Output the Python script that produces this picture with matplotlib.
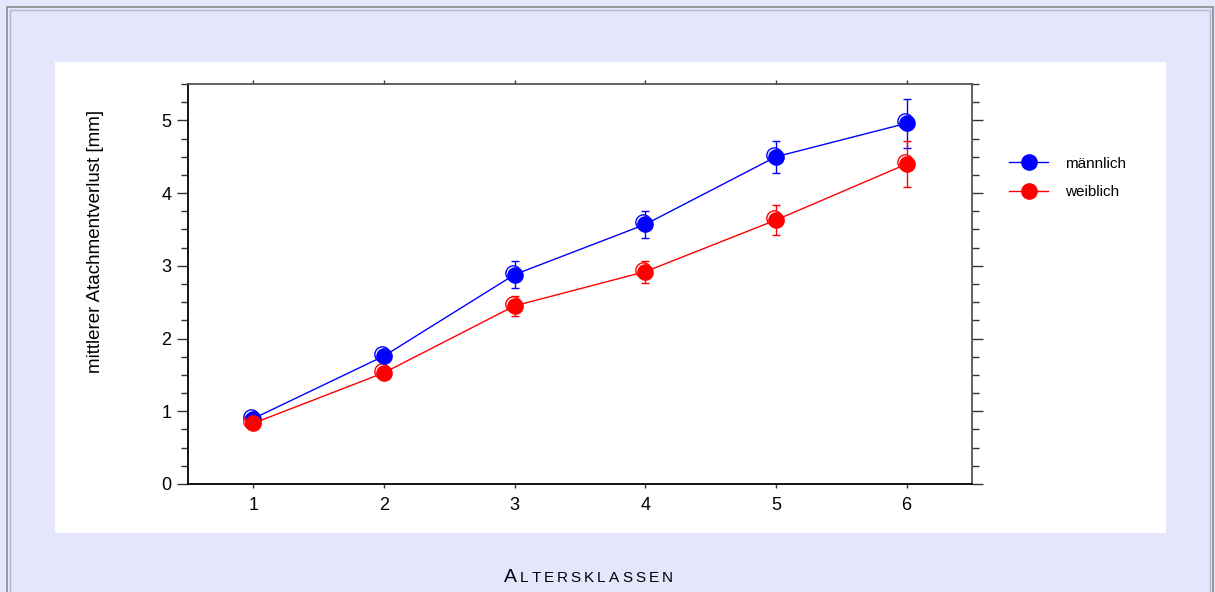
import matplotlib
matplotlib.use("Agg")
import matplotlib.pyplot as plt
import matplotlib.transforms as mtransforms
from matplotlib.patches import Rectangle
from matplotlib.lines import Line2D
from matplotlib.offsetbox import TextArea, HPacker, AnnotationBbox
from matplotlib.ticker import MultipleLocator

plt.rcParams["font.family"] = ["Liberation Sans", "DejaVu Sans"]

klassen = [1, 2, 3, 4, 5, 6]
maennlich = [0.90, 1.76, 2.88, 3.57, 4.50, 4.96]
maennlich_err = [0.05, 0.07, 0.18, 0.19, 0.22, 0.34]
weiblich = [0.835, 1.53, 2.45, 2.92, 3.63, 4.40]
weiblich_err = [0.04, 0.06, 0.14, 0.15, 0.20, 0.31]
serien = [("männlich", maennlich, maennlich_err, "#0000ff"),
          ("weiblich", weiblich, weiblich_err, "#ff0000")]

W, H = 1215, 592
fig = plt.figure(figsize=(W / 100, H / 100), dpi=100)
fig.patch.set_facecolor("#e5e5fc")

# frame lines round the page, white panel behind the plot
def px_rect(x0, y0, x1, y1, **kw):
    fig.add_artist(Rectangle((x0 / W, 1 - y1 / H), (x1 - x0) / W, (y1 - y0) / H,
                             transform=fig.transFigure, zorder=-5, **kw))

px_rect(7, 7, 1213, 620, fill=False, edgecolor="#8a8a8a", linewidth=1.2)
px_rect(10, 10, 1210, 620, fill=False, edgecolor="#b8b8c8", linewidth=1.0)
px_rect(55, 62, 1166, 533, facecolor="white", edgecolor="none")

ax = fig.add_axes([188 / W, 1 - 484 / H, (972 - 188) / W, (484 - 84) / H])
ax.set_facecolor("white")

ring_tr = mtransforms.offset_copy(ax.transData, fig=fig, x=-2, y=2, units="dots")
handles = []
for name, werte, err, farbe in serien:
    ax.errorbar(klassen, werte, yerr=err, fmt="none", ecolor=farbe,
                elinewidth=1.0, capsize=3, capthick=1.0, zorder=2)
    ax.plot(klassen, werte, color=farbe, linewidth=1.0, zorder=3)
    ax.plot(klassen, werte, linestyle="none", marker="o", markersize=11,
            markerfacecolor="white", markeredgecolor=farbe, markeredgewidth=1.0,
            transform=ring_tr, zorder=4)
    ax.plot(klassen, werte, linestyle="none", marker="o", markersize=11,
            markerfacecolor=farbe, markeredgecolor=farbe, zorder=5)
    handles.append(Line2D([], [], color=farbe, linewidth=1.0, marker="o",
                          markersize=11, markerfacecolor=farbe,
                          markeredgecolor=farbe, label=name))

ax.set_xlim(0.5, 6.5)
ax.set_ylim(0, 5.5)
ax.set_xticks(klassen)
ax.yaxis.set_major_locator(MultipleLocator(1))
ax.yaxis.set_minor_locator(MultipleLocator(0.25))
ax.tick_params(axis="x", which="both", direction="out", length=3, width=1,
               top=True, labelsize=13, pad=6, color="#333333")
ax.tick_params(axis="y", which="major", direction="out", length=8, width=1,
               right=True, labelsize=13, pad=4, color="#333333")
ax.tick_params(axis="y", which="minor", direction="out", length=5, width=1,
               right=True, color="#333333")

for side in ("left", "bottom"):
    ax.spines[side].set_color("black")
    ax.spines[side].set_linewidth(1.3)
for side in ("top", "right"):
    ax.spines[side].set_color("#555555")
    ax.spines[side].set_linewidth(1.3)

fig.text(96 / W, 1 - 241 / H, "mittlerer Atachmentverlust [mm]", rotation=90,
         ha="center", va="center", fontsize=13.5)

leg = fig.legend(handles=handles, loc="upper left",
                 bbox_to_anchor=(995 / W, 1 - 143 / H), frameon=False,
                 handlelength=2.6, handletextpad=1.1, labelspacing=0.95,
                 prop={"size": 11})

# x axis title in spaced small caps
buchstaben = [TextArea("A", textprops=dict(fontsize=14))]
buchstaben += [TextArea(c, textprops=dict(fontsize=11)) for c in "LTERSKLASSEN"]
titel = HPacker(children=buchstaben, align="baseline", pad=0, sep=2.2)
ab = AnnotationBbox(titel, (588 / W, 1 - 577 / H), xycoords="figure fraction",
                    frameon=False, box_alignment=(0.5, 0.5))
fig.add_artist(ab)

fig.savefig("out.png", dpi=100, facecolor=fig.get_facecolor())
